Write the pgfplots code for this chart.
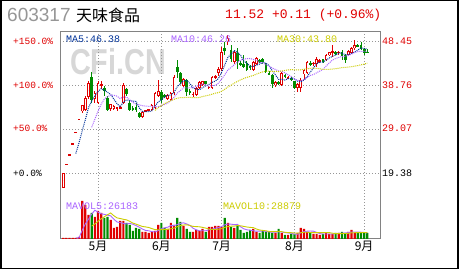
\documentclass[border=0pt]{standalone}
\usepackage{pgfplots}
\pgfplotsset{compat=1.18}
\usepackage{pgfplotstable}
\usepackage{fontspec}
\setmainfont{Liberation Sans}
\setmonofont{Liberation Mono}
\newfontfamily\cjk{Noto Sans CJK SC}
\definecolor{cred}{RGB}{224,0,0}
\definecolor{cgreen}{RGB}{0,140,0}
\definecolor{cblue}{RGB}{0,51,153}
\definecolor{cpurple}{RGB}{170,100,255}
\definecolor{cyellow}{RGB}{204,204,0}
\definecolor{cgrid}{RGB}{150,150,150}
\definecolor{cframe}{RGB}{130,130,130}
\definecolor{ctitle}{RGB}{150,150,150}
\definecolor{cwater}{RGB}{215,215,215}

% i = trading day, O H L C in % vs 19.38, V = volume (relative units)
\pgfplotstableread{
i O H L C V
0 -16.7 0 -17 0 1
1 10 10 10 10 1
2 21 21 21 21 1
3 33.1 33.1 33.1 33.1 1
4 46.4 46.4 46.4 46.4 1
5 61.1 61.1 61.1 61.1 2
6 70 77.2 68 77.2 38
7 72 87 70 85 34
8 86 104 84 102 24
10 84 93 80 91 22
11 80 104 78 102 28
12 99 104 96 101 26
15 73 78 71 78 19
16 73 77 72 76 11
17 73 75 71 75 12
18 74 76 73 74.5 18
19 80 102 78 100 18
25 64 70 63 69 7
26 70 72 69 71 7
27 71 73 70 72 6
28 72 78 71 77 7
29 74 92 73 91 8
30 88 106 86 93 14
33 84 90 83 89 10
34 83 92 82 91 16
35 91 111 89 109 14
38 99 108 98 107 13
41 89 92 86 90 7
42 89 98 88 97 9
43 97 104 95 103 8
44 100 105 99 104 10
46 97 99 96 98 12
47 97 110 96 109 12
48 108 111 107 110 13
49 114 120 110 118 13
50 118 143 116 137 12
52 149 157 145 153 16
54 126 140 124 137 11
60 117 127 116 126 10
61 124 132 123 131 7
67 100 104 98 103 6
69 100 115 99 114 6
71 108 110 107 108.5 4
74 97 102 92 101 6
75 97 108 92 106 11
76 112 118 107 117 10
77 114 127 113 126 7
79 124 126 122 125 5
80 124 132 120 129 5
81 127 129 125 127.5 4
83 128 135 127 134 6
84 134 138 133 137 5
85 137 145 132 138 5
87 136 139 134 138 6
90 134 140 133 139 7
91 136 143 135 142 9
92 142 151 140 145 6
}\upc

\pgfplotstableread{
i O H L C V
9 109 115 80 83 26
13 97 99 88 93 21
14 85 87 70 72 22
20 95 97 88 90 16
21 80 83 70 72 14
22 74 76 71 72.5 8
23 75 80 69 72 11
24 68 69 62 64 10
31 92 94 80 83 16
32 89 90 85 86 11
36 120 128 108 115 21
37 114 115 101 103 17
39 106 107 88 92 10
40 93 95 89 91 7
45 104 105 100 101 7
51 142 149 134 139 21
53 140 145 126 129 12
55 136 142 118 127 13
56 125 127 122 123 9
57 124 134 119 120 6
58 125 127 116 117 7
59 122 123 117 119 9
62 128 130 125 126 6
63 130 131 124 126 8
64 124 125 114 115 7
65 114 116 111 112 7
66 111 113 97 101 6
68 103 104 100 101 10
70 111 113 108 109 4
72 108 109 104 106 5
73 104 105 95 97 5
78 125 127 122 123 6
82 129 130 125 126 5
86 138 139 134 135 6
88 137 140 128 133 7
89 134 135 125 128 6
93 145 147 143 144 6
94 145 149 140 141 6
95 141 142 134 136 6
96 137.5 141 136 137 6
}\dnc

\pgfplotstableread{
i ma5 ma10 ma30 mv5 mv10
4 22.1 nan nan 1 nan
5 34.3 nan nan 1.2 nan
6 47.8 nan nan 8.6 nan
7 60.6 nan nan 15.2 nan
8 74.3 nan nan 19.8 nan
9 81.7 51.9 nan 24.8 12.9
10 87.6 61 nan 28.8 15
11 92.6 70.2 nan 26.8 17.7
12 95.8 78.2 nan 25.2 20.2
13 94 84.2 nan 24.6 22.2
14 91.8 86.7 nan 23.8 24.3
15 89.2 88.4 nan 23.2 26
16 84 88.3 nan 19.8 23.3
17 78.8 87.3 nan 17 21.1
18 75.1 84.6 nan 16.4 20.5
19 80.7 86.3 nan 15.6 19.7
20 83.1 86.2 nan 15 19.1
21 82.3 83.2 nan 15.6 17.7
22 81.8 80.3 nan 14.8 15.9
23 81.3 78.2 nan 13.4 14.9
24 74.1 77.4 nan 11.8 13.7
25 69.9 76.5 nan 10 12.5
26 69.7 76 nan 8.6 12.1
27 69.6 75.7 nan 8.2 11.5
28 70.6 76 nan 7.4 10.4
29 76 75 71.1 7 9.4
30 80.8 75.4 74.2 8.4 9.2
31 83.2 76.5 76.6 10.2 9.4
32 86 77.8 78.8 11.2 9.7
33 88.4 79.5 80.6 11.8 9.6
34 88.4 82.2 82.1 13.4 10.2
35 91.6 86.2 83.7 13.4 10.9
36 98 90.6 85 14.4 12.3
37 101.4 93.7 85.6 15.6 13.4
38 105 96.7 85.7 16.2 14
39 105.2 96.8 86 15 14.2
40 101.6 96.6 86 13.6 13.5
41 96.6 97.3 85.6 10.8 12.6
42 95.4 98.4 85.5 9.2 12.4
43 94.6 99.8 85.8 8.2 12.2
44 97 101.1 86.9 8.2 11.6
45 99 100.3 87.7 8.2 10.9
46 100.6 98.6 88.4 9.2 10
47 103 99.2 89.5 9.8 9.5
48 104.4 99.5 90.7 10.8 9.5
49 107.2 102.1 91.3 11.4 9.8
50 114.4 106.7 92.9 12.4 10.3
51 122.6 111.6 95.1 14.2 11.7
52 131.4 117.2 97.8 15 12.4
53 135.2 119.8 99.7 14.8 12.8
54 139 123.1 102.1 14.4 12.9
55 137 125.7 104.1 14.6 13.5
56 133.8 128.2 105.8 12.2 13.2
57 127.2 129.3 107.4 10.2 12.6
58 124.8 130 108.7 9.2 12
59 121.2 130.1 109.7 8.8 11.6
60 121 129 110.8 8.2 11.4
61 122.6 128.2 112.4 7.8 10
62 123.8 125.5 113.7 7.8 9
63 125.6 125.2 114.9 8 8.6
64 124.8 123 115.7 7.6 8.2
65 122 121.5 115.8 7 7.6
66 116 119.3 115.4 6.8 7.3
67 111.4 117.6 115.4 6.8 7.3
68 106.4 116 115.2 7.2 7.6
69 106.2 115.5 115.9 7 7.3
70 105.6 113.8 116.5 6.4 6.7
71 107.1 111.6 117.1 6 6.4
72 107.7 109.6 117.4 5.8 6.3
73 106.9 106.7 117.2 4.8 6
74 104.3 105.3 117.1 4.8 5.9
75 103.7 104.7 117.3 6.2 6.3
76 105.4 106.3 117.9 7.4 6.7
77 109.4 108.6 118.5 7.8 6.8
78 114.6 110.8 118.9 8 6.4
79 119.4 111.9 119.2 7.8 6.3
80 124 113.9 118.9 6.6 6.4
81 126.1 115.8 118.5 5.4 6.4
82 126.1 117.8 117.6 5 6.4
83 128.3 121.5 117.8 5 6.5
84 130.7 125.1 117.8 5 6.4
85 132.5 128.3 118.1 5 5.8
86 134 130.1 118.5 5.4 5.4
87 136.4 131.3 119.1 5.6 5.3
88 136.2 132.3 119.7 5.8 5.4
89 134.4 132.6 120 6 5.5
90 134.6 133.6 120.4 6.4 5.7
91 136 135 120.8 7 6.2
92 137.4 136.9 121.4 7 6.3
93 139.6 137.9 122 6.8 6.3
94 142.2 138.3 122.9 6.8 6.4
95 141.6 138.1 123.7 6.6 6.5
96 140.6 138.3 124.9 6 6.5
}\ma

\pgfplotsset{
  candle/.style={forget plot, only marks, mark=none, mark size=0pt,
    mark options={draw=none, fill=none},
    error bars/.cd, y dir=both, y explicit, error mark=none,
    error bar style={#1}},
}

\begin{document}
\begin{tikzpicture}
\useasboundingbox (0pt,0pt) rectangle (460pt,270pt);
\fill[white] (0pt,0pt) rectangle (460pt,270pt);
\draw[black, line width=1.5pt] (0.75pt,1.5pt) rectangle (458pt,269.25pt);

% watermark
\node[font=\bfseries\fontsize{36}{36}\selectfont, text=cwater, xscale=0.8, inner sep=0] at (118pt,208.5pt) {CFi.CN};

% header
\node[anchor=base west, inner sep=0, text=ctitle, font=\fontsize{19}{19}\selectfont] at (7pt,248pt) {603317};
\node[anchor=base west, inner sep=0, font=\cjk\fontsize{16}{16}\selectfont] at (76pt,248.5pt) {天味食品};
\node[anchor=base west, inner sep=0, text=cred, font=\ttfamily\fontsize{13}{13}\selectfont] at (225pt,251pt) {11.52 +0.11 (+0.96\%)};

\begin{axis}[
  at={(60pt,31pt)}, anchor=south west, scale only axis,
  width=320pt, height=207pt,
  xmin=-1, xmax=100, ymin=-75, ymax=160.2,
  axis line style={cframe, line width=1pt},
  xtick={11,31,50,73,95},
  xticklabels={5月,6月,7月,8月,9月},
  xticklabel style={font=\cjk\fontsize{12}{12}\selectfont, inner sep=2pt},
  ytick={0,50,100,150},
  yticklabels={,,,},
  major tick length=0pt,
  grid=major,
  major grid style={cgrid, line width=0.8pt, dash pattern=on 1pt off 2pt},
]
% wicks
\addplot[candle={cred, line width=0.9pt}] table[x=i, y expr={(\thisrow{H}+\thisrow{L})/2}, y error expr={(\thisrow{H}-\thisrow{L})/2}] {\upc};
\addplot[candle={cgreen, line width=0.9pt}] table[x=i, y expr={(\thisrow{H}+\thisrow{L})/2}, y error expr={(\thisrow{H}-\thisrow{L})/2}] {\dnc};
% bodies
\addplot[candle={cred, line width=2.7pt}] table[x=i, y expr={(\thisrow{O}+\thisrow{C})/2}, y error expr={max(abs(\thisrow{C}-\thisrow{O})/2,0.7)}] {\upc};
\addplot[candle={white, line width=0.9pt}] table[x=i, y expr={(\thisrow{O}+\thisrow{C})/2}, y error expr={max(abs(\thisrow{C}-\thisrow{O})/2-1.0,0)}] {\upc};
\addplot[candle={cgreen, line width=2.7pt}] table[x=i, y expr={(\thisrow{O}+\thisrow{C})/2}, y error expr={max(abs(\thisrow{C}-\thisrow{O})/2,0.7)}] {\dnc};
% moving averages
\addplot[cblue, line width=1pt, dash pattern=on 1pt off 1pt] table[x=i, y=ma5] {\ma};
\addplot[cpurple, line width=1pt, dash pattern=on 1pt off 1pt] table[x=i, y=ma10] {\ma};
\addplot[cyellow, line width=1pt, dash pattern=on 1pt off 1pt] table[x=i, y=ma30] {\ma};
\end{axis}

\begin{axis}[
  at={(60pt,31pt)}, anchor=south west, scale only axis,
  width=320pt, height=40pt,
  xmin=-1, xmax=100, ymin=0, ymax=40,
  hide axis,
]
\addplot[ybar, bar shift=0pt, bar width=2.2pt, fill=cred, draw=none] table[x=i, y=V] {\upc};
\addplot[ybar, bar shift=0pt, bar width=2.2pt, fill=cgreen, draw=none] table[x=i, y=V] {\dnc};
\addplot[cpurple, line width=0.9pt] table[x=i, y=mv5] {\ma};
\addplot[cyellow, line width=0.9pt] table[x=i, y=mv10] {\ma};
\end{axis}

% left percent labels
\begin{scope}[every node/.style={anchor=west, inner sep=0, font=\ttfamily\fontsize{9.5}{9.5}\selectfont}]
\node[text=cred] at (13pt,228.5pt) {+150.0\%};
\node[text=cred] at (13pt,185pt) {+100.0\%};
\node[text=cred] at (13pt,142pt) {+50.0\%};
\node[text=black] at (13pt,97pt) {+0.0\%};
\end{scope}
% right price labels
\begin{scope}[every node/.style={anchor=west, inner sep=0, font=\ttfamily\fontsize{10}{10}\selectfont}]
\node[text=cred] at (382pt,229pt) {48.45};
\node[text=cred] at (382pt,185pt) {38.76};
\node[text=cred] at (382pt,142pt) {29.07};
\node[text=black] at (382pt,97pt) {19.38};
\end{scope}
% MA legends
\begin{scope}[every node/.style={anchor=west, inner sep=0, font=\ttfamily\fontsize{10}{10}\selectfont}]
\node[text=cblue] at (66pt,231pt) {MA5:46.38};
\node[text=cpurple] at (171pt,231pt) {MA10:46.26};
\node[text=cyellow] at (277pt,231pt) {MA30:43.80};
\node[text=cpurple] at (66pt,64pt) {MAVOL5:26183};
\node[text=cyellow] at (223pt,64pt) {MAVOL10:28879};
\end{scope}
\end{tikzpicture}
\end{document}
